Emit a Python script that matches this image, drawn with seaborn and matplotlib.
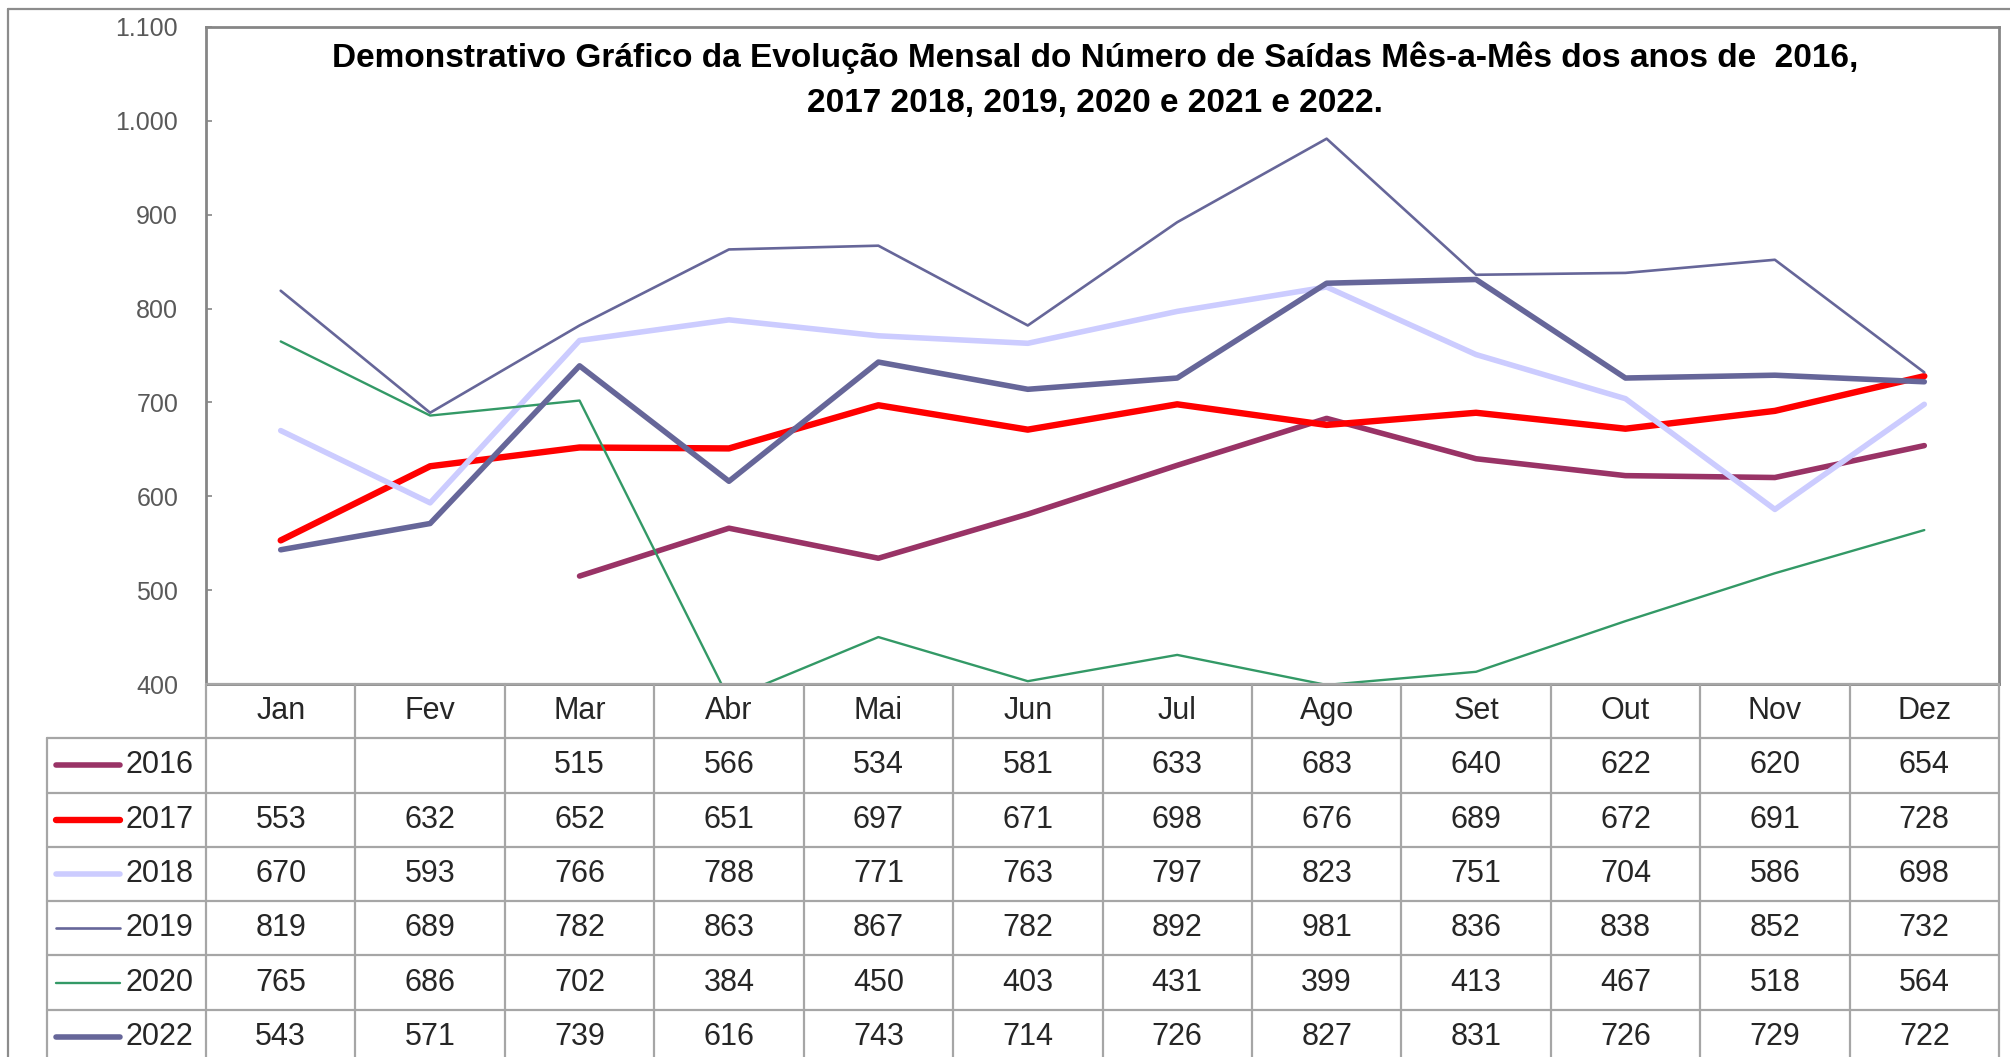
import numpy as np
import pandas as pd
import matplotlib
matplotlib.use("Agg")
import matplotlib.pyplot as plt
from matplotlib.lines import Line2D
from matplotlib.ticker import FixedLocator, FuncFormatter
import seaborn as sns

# ---------------- data ----------------
months = ["Jan", "Fev", "Mar", "Abr", "Mai", "Jun", "Jul", "Ago", "Set", "Out", "Nov", "Dez"]
years = ["2016", "2017", "2018", "2019", "2020", "2022"]
v2016 = [np.nan, np.nan, 515, 566, 534, 581, 633, 683, 640, 622, 620, 654]
v2017 = [553, 632, 652, 651, 697, 671, 698, 676, 689, 672, 691, 728]
v2018 = [670, 593, 766, 788, 771, 763, 797, 823, 751, 704, 586, 698]
v2019 = [819, 689, 782, 863, 867, 782, 892, 981, 836, 838, 852, 732]
v2020 = [765, 686, 702, 384, 450, 403, 431, 399, 413, 467, 518, 564]
v2022 = [543, 571, 739, 616, 743, 714, 726, 827, 831, 726, 729, 722]
y_ticks = [400, 500, 600, 700, 800, 900, 1000, 1100]
title = ("Demonstrativo Gráfico da Evolução Mensal do Número de Saídas Mês-a-Mês dos anos de  2016,\n"
         "2017 2018, 2019, 2020 e 2021 e 2022.")

series = {"2016": v2016, "2017": v2017, "2018": v2018,
          "2019": v2019, "2020": v2020, "2022": v2022}
colors = {"2016": "#993366", "2017": "#FF0000", "2018": "#CCCCFF",
          "2019": "#666699", "2020": "#339966", "2022": "#666699"}
widths = {"2016": 4.0, "2017": 4.6, "2018": 4.0,
          "2019": 1.9, "2020": 1.7, "2022": 4.0}

rows = []
for y in years:
    for i, v in enumerate(series[y]):
        rows.append({"ano": y, "mes": i, "valor": v})
df = pd.DataFrame(rows)

# ---------------- figure ----------------
sns.set_theme(style="white")
plt.rcParams["font.family"] = ["Liberation Sans", "DejaVu Sans"]

W, H = 2010, 1057
fig = plt.figure(figsize=(W / 100, H / 100), dpi=100)
fig.patch.set_facecolor("white")

def fx(px):
    return px / W

def fy(py):
    return 1 - py / H

P_L, P_R, P_T, P_B = 206, 1999, 27, 684
ax = fig.add_axes([fx(P_L), fy(P_B), fx(P_R - P_L), (P_B - P_T) / H])

sns.lineplot(data=df, x="mes", y="valor", hue="ano", size="ano",
             hue_order=years, size_order=years, palette=colors, sizes=widths,
             estimator=None, errorbar=None, legend=False, sort=False, ax=ax)

ax.set_xlim(-0.5, 11.5)
ax.set_ylim(400, 1100)
ax.set_xlabel("")
ax.set_ylabel("")
ax.set_xticks([])
ax.yaxis.set_major_locator(FixedLocator(y_ticks))
ax.yaxis.set_major_formatter(FuncFormatter(lambda v, p: f"{int(v):,}".replace(",", ".")))
ax.tick_params(axis="y", direction="in", length=4, width=1.2, color="#868686",
               labelsize=18, labelcolor="#595959", pad=20, left=True)
for s in ax.spines.values():
    s.set_color("#868686")
    s.set_linewidth(2.0)
ax.grid(False)

# title
fig.text(fx(1095), fy(80), title, ha="center", va="center", fontsize=24,
         fontweight="bold", color="black", linespacing=1.6,
         multialignment="center")

# ---------------- data table ----------------
ROW_H = 54.3
n_rows = 1 + len(years)
T_BOT = P_B + n_rows * ROW_H
axt = fig.add_axes([fx(P_L), fy(T_BOT), fx(P_R - P_L), (T_BOT - P_B) / H])
axt.set_xlim(-0.5, 11.5)
axt.set_ylim(n_rows, 0)
axt.axis("off")

col_w = (P_R - P_L) / 12
def cx(px):
    return (px - P_L) / col_w - 0.5

LEG_L = cx(47)
gcol = "#A6A6A6"
glw = 1.6
# horizontal lines
axt.plot([-0.5, 11.5], [0, 0], color=gcol, lw=glw, clip_on=False)
for r in range(1, n_rows + 1):
    axt.plot([LEG_L, 11.5], [r, r], color=gcol, lw=glw, clip_on=False)
# vertical lines
for k in range(13):
    axt.plot([-0.5 + k, -0.5 + k], [0, n_rows], color=gcol, lw=glw, clip_on=False)
axt.plot([LEG_L, LEG_L], [1, n_rows], color=gcol, lw=glw, clip_on=False)

# header
for i, m in enumerate(months):
    axt.text(i, 0.5, m, ha="center", va="center", fontsize=22, color="#262626")

# values
for r, y in enumerate(years, start=1):
    vals = series[y]
    for i, v in enumerate(vals):
        if v is None or (isinstance(v, float) and np.isnan(v)):
            continue
        axt.text(i, r + 0.5, f"{int(v)}", ha="center", va="center",
                 fontsize=22, color="#262626")
    axt.add_line(Line2D([cx(56), cx(120)], [r + 0.5, r + 0.5], color=colors[y],
                        lw=widths[y], solid_capstyle="round", clip_on=False))
    axt.text(cx(125), r + 0.5, y, ha="left", va="center", fontsize=22,
             color="#262626", clip_on=False)

# outer chart frame (left and top)
fig.add_artist(Line2D([fx(8), fx(8)], [fy(9), 0], color="#8C8C8C", lw=1.6))
fig.add_artist(Line2D([fx(8), 1], [fy(9), fy(9)], color="#8C8C8C", lw=1.6))

fig.savefig("out.png", dpi=100, facecolor="white")
